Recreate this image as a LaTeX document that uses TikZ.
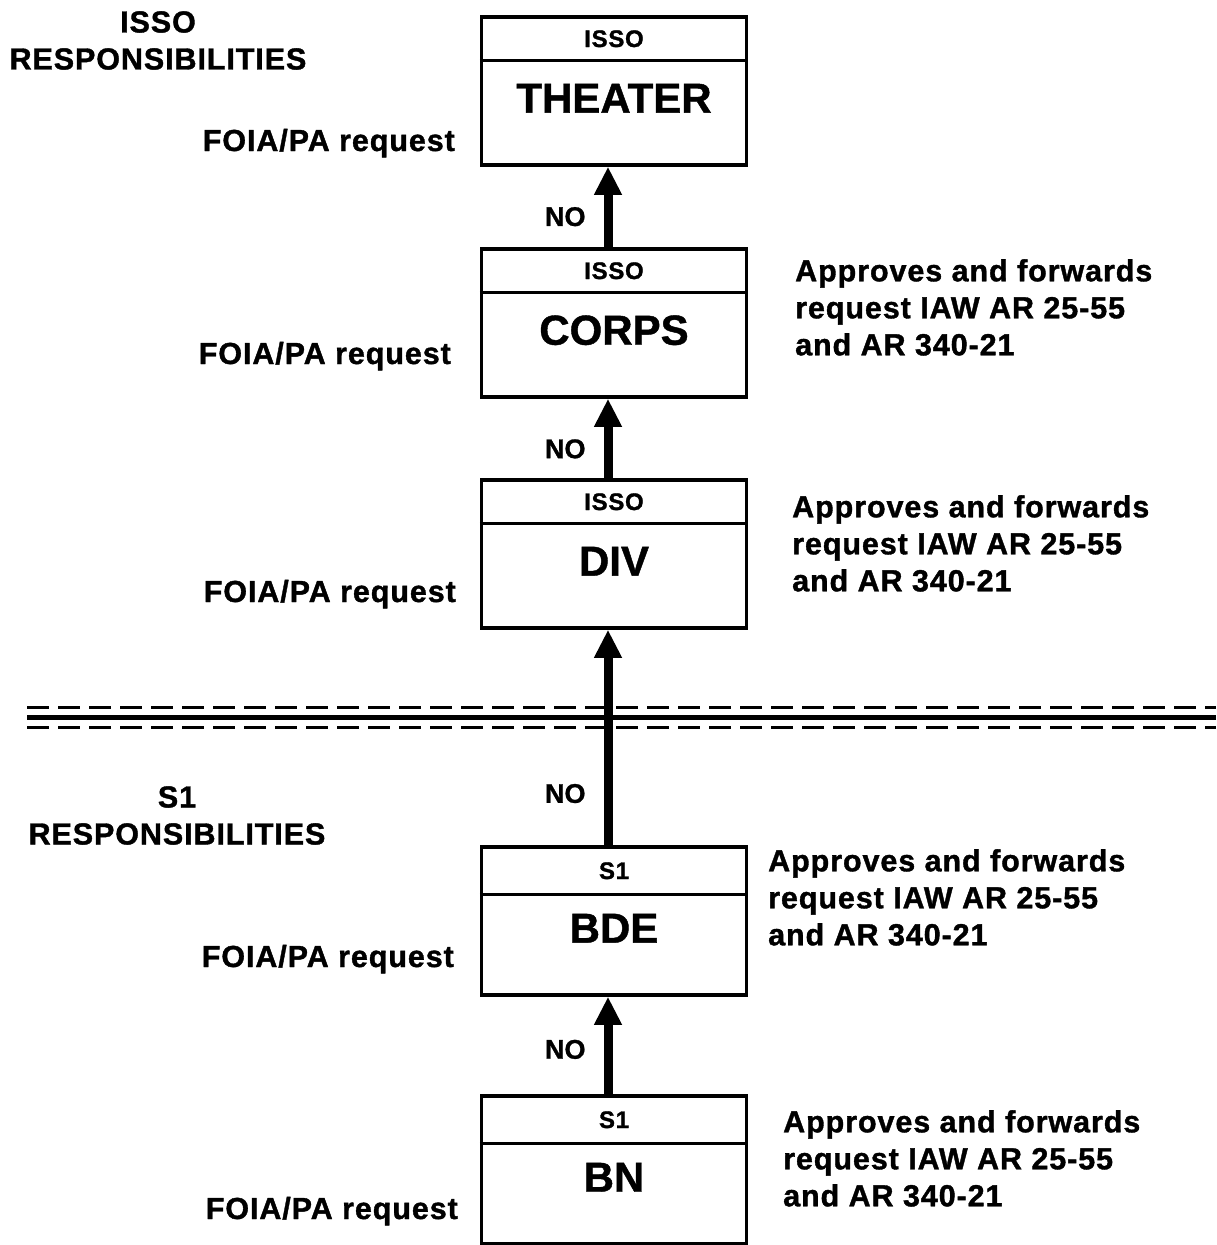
\documentclass[tikz,border=0pt]{standalone}
\usepackage{fontspec}
\setmainfont{Liberation Sans}[FakeBold=1]
\newfontfamily\widesans{Liberation Sans}[LetterSpace=3,FakeBold=1.2]
\usetikzlibrary{arrows.meta}

\begin{document}
\begin{tikzpicture}[x=1pt,y=-1pt,
		lbl/.style={font=\widesans\bfseries\fontsize{30.5}{37}\selectfont,inner sep=0pt},
		hdr/.style={font=\widesans\bfseries\fontsize{24}{24}\selectfont,inner sep=0pt},
		unit/.style={font=\bfseries\fontsize{42}{42}\selectfont,inner sep=0pt}]
	\useasboundingbox (0,0) rectangle (1216,1245);
	
	% the two levels of responsibility
	\node[lbl,align=center,anchor=north] (isso) at (158,11) {ISSO\\RESPONSIBILITIES};
	\node[lbl,align=center,anchor=north] (sone) at (177,786) {S1\\RESPONSIBILITIES};
	
	\draw[line width=3pt,dash pattern=on 22pt off 9pt] (27,707) -- (1216,707);
	\draw[line width=5pt] (27,717) -- (1216,717);
	\draw[line width=3pt,dash pattern=on 22pt off 9pt] (27,727) -- (1216,727);
	
	\begin{scope}[every node/.style={draw,line width=3.5pt,fill=white,minimum width=265pt,minimum height=148pt,inner sep=0pt}]
		\node (T) at (614,91) {};
		\node (C) at (614,323) {};
		\node (D) at (614,554) {};
		\node (B) at (614,921) {};
		\node (N) at (614,1170) {};
	\end{scope}
	
	\foreach \b/\h/\who/\what in {T/45/ISSO/THEATER,C/45/ISSO/CORPS,D/45/ISSO/DIV,B/49/S1/BDE,N/49/S1/BN}{
		\draw[line width=3pt] ([yshift=-\h pt]\b.north west) -- ([yshift=-\h pt]\b.north east);
		\node[hdr] at ([yshift=-\h/2-1 pt]\b.north) {\who};
		\node[unit] at ([yshift=-83pt]\b.north) {\what};
	}
	
	% requests come in from the left
	\node[lbl,anchor=base east] (rT) at (455,151) {FOIA/PA request};
	\node[lbl,anchor=base east] (rC) at (451,364) {FOIA/PA request};
	\node[lbl,anchor=base east] (rD) at (456,602) {FOIA/PA request};
	\node[lbl,anchor=base east] (rB) at (454,967) {FOIA/PA request};
	\node[lbl,anchor=base east] (rN) at (458,1219) {FOIA/PA request};
	
	\node[lbl,align=left,anchor=north west] (aC) at (795,259) {Approves and forwards\\request IAW AR 25-55\\and AR 340-21};
	\node[lbl,align=left,anchor=north west] (aD) at (792,495) {Approves and forwards\\request IAW AR 25-55\\and AR 340-21};
	\node[lbl,align=left,anchor=north west] (aB) at (768,849) {Approves and forwards\\request IAW AR 25-55\\and AR 340-21};
	\node[lbl,align=left,anchor=north west] (aN) at (783,1110) {Approves and forwards\\request IAW AR 25-55\\and AR 340-21};
	
	\begin{scope}[>={Triangle[length=28pt,width=26pt]},line width=9pt,
		every node/.style={font=\bfseries\fontsize{27}{27}\selectfont,inner sep=0pt,left=18pt}]
		\path [->] ([xshift=-6pt]C.north) edge node[pos=0.38] {NO} ([xshift=-6pt]T.south);
		\path [->] ([xshift=-6pt]D.north) edge node[pos=0.37] {NO} ([xshift=-6pt]C.south);
		\path [->] ([xshift=-6pt]B.north) edge node[pos=0.24] {NO} ([xshift=-6pt]D.south);
		\path [->] ([xshift=-6pt]N.north) edge node[pos=0.46] {NO} ([xshift=-6pt]B.south);
	\end{scope}
\end{tikzpicture}
\end{document}
